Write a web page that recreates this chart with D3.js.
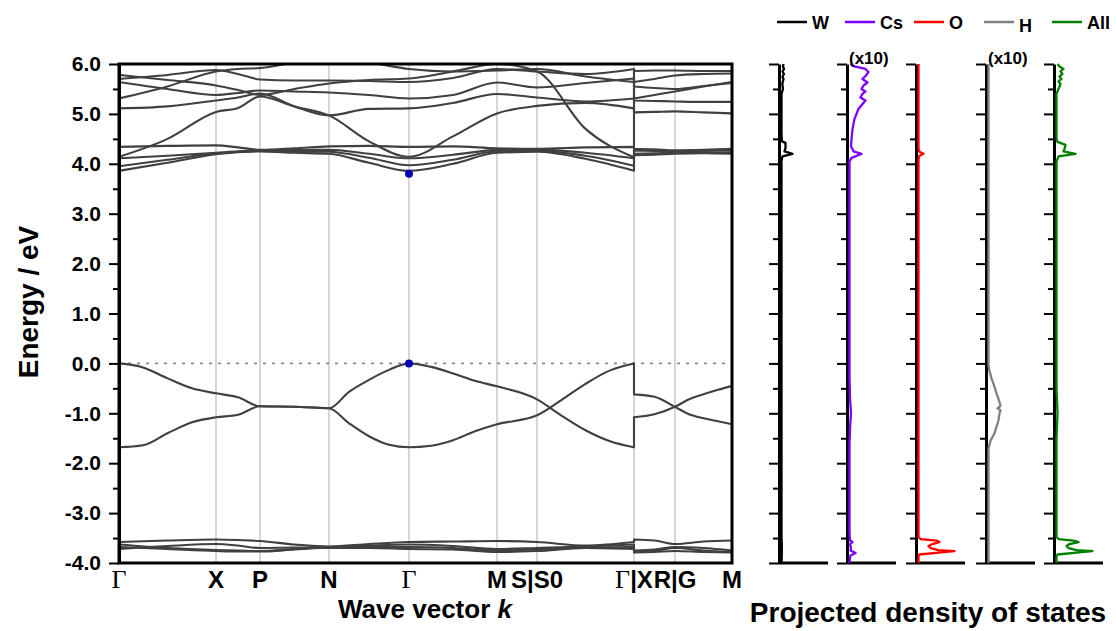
<!DOCTYPE html>
<html>
<head>
<meta charset="utf-8">
<script src="https://cdn.jsdelivr.net/npm/d3@7/dist/d3.min.js"></script>
<style>
  body { margin: 0; background: #fff; }
  text { font-family: "Liberation Sans", Arial, sans-serif; font-weight: bold; fill: #000; }
  .serif { font-family: "Liberation Serif", "Times New Roman", serif; font-weight: normal; }
</style>
</head>
<body>
<svg id="chart" width="1116" height="631"></svg>
<script>
// high-symmetry points along the k path
var kTicks = [0, 0.97, 1.41, 2.10, 2.90, 3.78, 4.18, 5.15, 5.56, 6.13];
var kLabels = ["Γ", "X", "P", "N", "Γ", "M", "S|S0", "Γ|X", "R|G", "M"];

// k positions where band energies were read (Γ|X appears twice: jump)
var kGrid = [0, 0.485, 0.97, 1.19, 1.41, 1.755, 2.10, 2.50, 2.90, 3.34, 3.78,
             4.18, 4.665, 5.15, 5.15, 5.355, 5.56, 5.845, 6.13];
// finer reading grid for the two clean valence bands
var kFine = [0, 0.24, 0.485, 0.73, 0.97, 1.19, 1.41, 1.755, 2.10, 2.30, 2.50, 2.70,
             2.90, 3.12, 3.34, 3.56, 3.78, 4.18, 4.42, 4.665, 4.91, 5.15, 5.15, 5.355,
             5.56, 5.70, 5.845, 5.99, 6.13];

// valence bands near the Fermi level (on kFine)
var vb1 = [0.0, -0.08, -0.30, -0.50, -0.60, -0.68, -0.86, -0.87, -0.90, -0.57, -0.33,
           -0.13, 0.0, -0.07, -0.20, -0.35, -0.46, -0.72, -1.04, -1.34, -1.56, -1.68,
           -1.08, -1.02, -0.87, -0.72, -0.62, -0.53, -0.45];
var vb2 = [-1.68, -1.64, -1.40, -1.18, -1.08, -1.03, -0.86, -0.87, -0.90, -1.20, -1.46,
           -1.63, -1.68, -1.65, -1.54, -1.36, -1.22, -1.04, -0.74, -0.41, -0.14, 0.0,
           -0.62, -0.67, -0.87, -1.02, -1.10, -1.16, -1.22];

// deep valence bands (-3.5 .. -3.8 eV)
var d1 = [-3.58, -3.55, -3.53, -3.54, -3.56, -3.63, -3.67, -3.62, -3.58, -3.57, -3.56,
          -3.58, -3.65, -3.58, -3.53, -3.55, -3.62, -3.57, -3.55];
var d2 = [-3.63, -3.70, -3.74, -3.75, -3.76, -3.72, -3.68, -3.65, -3.63, -3.66, -3.72,
          -3.70, -3.67, -3.63, -3.75, -3.73, -3.68, -3.70, -3.75];
var d3b = [-3.68, -3.72, -3.76, -3.77, -3.77, -3.73, -3.69, -3.68, -3.68, -3.70, -3.75,
           -3.73, -3.69, -3.68, -3.77, -3.76, -3.70, -3.75, -3.78];
var d4 = [-3.72, -3.66, -3.62, -3.65, -3.70, -3.69, -3.70, -3.70, -3.72, -3.73, -3.78,
          -3.76, -3.70, -3.72, -3.79, -3.78, -3.76, -3.78, -3.79];

// conduction bands
var c1 = [3.86, 4.02, 4.19, 4.23, 4.25, 4.22, 4.20, 4.02, 3.86, 4.00, 4.22,
          4.24, 4.10, 3.86, 4.17, 4.18, 4.20, 4.21, 4.20];
var c2 = [3.95, 4.08, 4.21, 4.24, 4.26, 4.25, 4.24, 4.12, 3.97, 4.08, 4.25,
          4.26, 4.16, 3.96, 4.20, 4.21, 4.22, 4.22, 4.23];
var c3 = [4.11, 4.16, 4.22, 4.25, 4.27, 4.28, 4.28, 4.20, 4.11, 4.18, 4.28,
          4.29, 4.22, 4.11, 4.27, 4.26, 4.25, 4.26, 4.27];
var c4 = [4.34, 4.36, 4.37, 4.33, 4.28, 4.31, 4.35, 4.36, 4.34, 4.35, 4.31,
          4.30, 4.33, 4.34, 4.30, 4.29, 4.27, 4.28, 4.30];
var c5 = [4.14, 4.50, 5.04, 5.12, 5.35, 5.15, 4.97, 4.45, 4.14, 4.55, 5.01,
          5.16, 5.22, 5.11, 5.03, 5.04, 5.05, 5.03, 5.01];
var c6 = [5.11, 5.15, 5.27, 5.33, 5.41, 5.15, 4.97, 5.10, 5.11, 5.22, 5.40,
          5.33, 5.25, 5.31, 5.27, 5.26, 5.25, 5.24, 5.24];
var c7 = [5.31, 5.55, 5.85, 5.90, 5.92, 6.02, 6.05, 6.02, 5.90, 5.85, 5.87,
          5.90, 5.75, 5.64, 5.31, 5.38, 5.45, 5.55, 5.64];
var c8 = [5.64, 5.50, 5.38, 5.42, 5.47, 5.45, 5.43, 5.38, 5.31, 5.38, 5.63,
          5.53, 5.62, 5.71, 5.55, 5.52, 5.50, 5.56, 5.62];
var c9 = [5.70, 5.78, 5.88, 5.80, 5.69, 5.67, 5.67, 5.66, 5.64, 5.72, 5.90,
          5.85, 5.80, 5.90, 5.64, 5.70, 5.77, 5.80, 5.81];
var c10 = [5.78, 5.68, 5.57, 5.48, 5.38, 5.50, 5.61, 5.68, 5.71, 5.85, 6.00,
           5.85, 4.70, 4.13, 5.86, 5.87, 5.87, 5.86, 5.86];

var fineBands = [vb1, vb2];
var coarseBands = [d1, d2, d3b, d4, c1, c2, c3, c4, c5, c6, c7, c8, c9, c10];

// band edges marked with dots at Γ
var edgeK = [2.90, 2.90];
var edgeE = [0.0, 3.80];

// energy ticks
var yMajor = [-4, -3, -2, -1, 0, 1, 2, 3, 4, 5, 6];
var yMinor = [-3.5, -2.5, -1.5, -0.5, 0.5, 1.5, 2.5, 3.5, 4.5, 5.5];

// projected DOS, [energy, intensity] pairs
var pdosNames = ["W", "Cs", "O", "H", "All"];
var pdosColors = ["#000000", "#7f00ff", "#ff0000", "#808080", "#008000"];
var pdosScaled = ["", "(x10)", "", "(x10)", ""];
var pdosW = [[-4.0, 0], [-3.8, 0.3], [-3.6, 0.3], [-3.5, 0], [4.06, 0], [4.15, 1], [4.2, 11],
  [4.25, 3], [4.32, 4], [4.42, 4], [4.45, 0.5], [4.6, 0], [5.4, 0], [5.5, 1.5], [5.6, 0.8],
  [5.7, 2], [5.75, 1], [5.8, 2.5], [5.85, 1], [5.9, 2.5], [5.95, 1.5], [6.0, 2]];
var pdosCs = [[-4.0, 0], [-3.9, 0.5], [-3.85, 1], [-3.8, 6], [-3.75, 1], [-3.7, 1.5],
  [-3.62, 0.5], [-3.58, 3], [-3.55, 0.5], [-3.4, 0], [-1.6, 0], [-1.3, 0.5], [-1.0, 1.5],
  [-0.7, 0.5], [-0.3, 0], [4.05, 0], [4.12, 2], [4.2, 12], [4.25, 4], [4.35, 1.5], [4.5, 2],
  [4.7, 3], [4.9, 5], [5.0, 7], [5.1, 9], [5.2, 13], [5.27, 16], [5.33, 11], [5.4, 13],
  [5.45, 16], [5.5, 12], [5.57, 14], [5.63, 18], [5.7, 13], [5.78, 17], [5.84, 19],
  [5.9, 16], [5.95, 5], [6.0, 1]];
var pdosO = [[-4.0, 0], [-3.86, 0], [-3.83, 1], [-3.79, 20], [-3.76, 36], [-3.74, 20],
  [-3.7, 12], [-3.66, 10], [-3.62, 14], [-3.58, 21], [-3.55, 18], [-3.52, 2], [-3.48, 0],
  [4.1, 0], [4.16, 1], [4.2, 5], [4.24, 1], [4.3, 0], [6.0, 0]];
var pdosH = [[-4.0, 0], [-1.7, 0], [-1.55, 2], [-1.4, 6], [-1.14, 10], [-1.0, 11],
  [-0.94, 12], [-0.9, 9], [-0.85, 12], [-0.74, 10.5], [-0.6, 8], [-0.47, 6], [-0.3, 3],
  [-0.15, 1], [-0.04, 0], [6.0, 0]];
var pdosAll = [[-4.0, 0], [-3.86, 0], [-3.83, 1], [-3.79, 20], [-3.76, 36], [-3.74, 20],
  [-3.7, 12], [-3.66, 10], [-3.62, 13], [-3.58, 22], [-3.55, 17], [-3.52, 2], [-3.48, 0],
  [-1.5, 0], [-1.0, 1], [-0.5, 0], [4.05, 0], [4.15, 2], [4.2, 19], [4.25, 7], [4.3, 8],
  [4.38, 9], [4.44, 1], [4.5, 0], [5.4, 0], [5.5, 2], [5.6, 4], [5.65, 2], [5.7, 5],
  [5.75, 3], [5.8, 6], [5.85, 4], [5.9, 7], [5.95, 3], [6.0, 1]];
var pdosData = [pdosW, pdosCs, pdosO, pdosH, pdosAll];

var svg = d3.select("#chart");

var pLeft = 119, pRight = 732, pTop = 64, pBottom = 563;
var x = d3.scaleLinear().domain([0, 6.13]).range([pLeft, pRight]);
var y = d3.scaleLinear().domain([-4, 6]).range([pBottom, pTop]);

svg.append("defs").append("clipPath").attr("id", "plotclip")
  .append("rect").attr("x", pLeft).attr("y", pTop)
  .attr("width", pRight - pLeft).attr("height", pBottom - pTop);

// gray lines at the high-symmetry points
svg.append("g").selectAll("line")
  .data(kTicks.slice(1, -1))
  .join("line")
  .attr("x1", d => x(d)).attr("x2", d => x(d))
  .attr("y1", pTop).attr("y2", pBottom)
  .attr("stroke", "#c8c8c8").attr("stroke-width", 1.5);

// Fermi level
svg.append("line")
  .attr("x1", pLeft).attr("x2", pRight)
  .attr("y1", y(0)).attr("y2", y(0))
  .attr("stroke", "#8a8a8a").attr("stroke-width", 1.6)
  .attr("stroke-dasharray", "3,6");

// bands: the path jumps straight down/up at Γ|X (repeated k value)
var line = d3.line()
  .x(d => x(d[0])).y(d => y(d[1]))
  .curve(d3.curveMonotoneX);

function bandPath(grid) {
  return function(vals) {
    var pts = grid.map((k, i) => [k, vals[i]]);
    var cut = grid.lastIndexOf(5.15);
    return line(pts.slice(0, cut)) + line(pts.slice(cut)).replace(/^M/, "L");
  };
}

var bandG = svg.append("g").attr("clip-path", "url(#plotclip)");
[[coarseBands, kGrid], [fineBands, kFine]].forEach(function(set) {
  bandG.append("g").selectAll("path")
    .data(set[0])
    .join("path")
    .attr("d", bandPath(set[1]))
    .attr("fill", "none")
    .attr("stroke", "#404040")
    .attr("stroke-width", 2.1)
    .attr("stroke-linejoin", "round");
});

// VBM and CBM
svg.append("g").selectAll("circle")
  .data(edgeK)
  .join("circle")
  .attr("cx", d => x(d))
  .attr("cy", (d, i) => y(edgeE[i]))
  .attr("r", 4)
  .attr("fill", "#0000b4");

// frame
svg.append("rect")
  .attr("x", pLeft).attr("y", pTop)
  .attr("width", pRight - pLeft).attr("height", pBottom - pTop)
  .attr("fill", "none").attr("stroke", "#000").attr("stroke-width", 3);

// energy axis
function styleAxis(g) {
  g.select(".domain").attr("stroke-width", 3);
  g.selectAll(".tick line").attr("stroke-width", 2);
}
svg.append("g")
  .attr("transform", "translate(" + pLeft + ",0)")
  .call(d3.axisLeft(y).tickValues(yMajor).tickSize(10).tickSizeOuter(0)
    .tickPadding(8).tickFormat(d => d.toFixed(1)))
  .call(styleAxis)
  .selectAll("text")
  .style("font-size", "21px")
  .attr("fill", "#000");

svg.append("g")
  .attr("transform", "translate(" + pLeft + ",0)")
  .call(d3.axisLeft(y).tickValues(yMinor).tickSize(6).tickFormat(""))
  .call(styleAxis)
  .select(".domain").remove();

svg.append("text")
  .attr("transform", "translate(38,302) rotate(-90)")
  .attr("text-anchor", "middle")
  .style("font-size", "28px")
  .text("Energy / eV");

// k labels (Γ in a serif face)
var kl = svg.append("g").selectAll("text")
  .data(kTicks)
  .join("text")
  .attr("x", d => x(d))
  .attr("y", 588)
  .attr("text-anchor", "middle")
  .style("font-size", "24px");
kl.each(function(d, i) {
  var t = d3.select(this);
  kLabels[i].split(/(Γ)/).filter(s => s.length).forEach(function(s) {
    t.append("tspan")
      .attr("class", s === "Γ" ? "serif" : null)
      .style("font-size", s === "Γ" ? "26px" : null)
      .text(s);
  });
});

var xt = svg.append("text")
  .attr("x", 425)
  .attr("y", 618)
  .attr("text-anchor", "middle")
  .style("font-size", "26px");
xt.append("tspan").text("Wave vector ");
xt.append("tspan").style("font-style", "italic").text("k");

// projected DOS panels
var panelX = [779, 847, 916, 986, 1054];
var pdosLine = d3.line().curve(d3.curveLinear);

pdosData.forEach(function(data, i) {
  var ax = panelX[i];
  var xs = d3.scaleLinear().domain([0, 48]).range([ax + 2.5, ax + 50.5]);
  var g = svg.append("g");

  g.append("g")
    .attr("transform", "translate(" + ax + ",0)")
    .call(d3.axisLeft(y).tickValues(yMajor).tickSize(10).tickSizeOuter(0).tickFormat(""))
    .call(styleAxis);
  g.append("g")
    .attr("transform", "translate(" + ax + ",0)")
    .call(d3.axisLeft(y).tickValues(yMinor).tickSize(6).tickFormat(""))
    .call(styleAxis)
    .select(".domain").remove();
  g.append("line")
    .attr("x1", ax).attr("x2", ax + 49)
    .attr("y1", pBottom).attr("y2", pBottom)
    .attr("stroke", "#000").attr("stroke-width", 3);

  g.append("path")
    .attr("d", pdosLine.x(d => xs(d[1])).y(d => y(d[0]))(data))
    .attr("fill", "none")
    .attr("stroke", pdosColors[i])
    .attr("stroke-width", 2.3)
    .attr("stroke-linejoin", "round");

  if (pdosScaled[i]) {
    g.append("text")
      .attr("x", ax + 2).attr("y", 64)
      .style("font-size", "17px")
      .text(pdosScaled[i]);
  }

  // legend entry
  g.append("line")
    .attr("x1", ax - 2).attr("x2", ax + 28)
    .attr("y1", 22).attr("y2", 22)
    .attr("stroke", pdosColors[i]).attr("stroke-width", 2.5);
  g.append("text")
    .attr("x", ax + 33).attr("y", i === 3 ? 32 : 29)
    .style("font-size", "18px")
    .text(pdosNames[i]);
});

svg.append("text")
  .attr("x", 928).attr("y", 622)
  .attr("text-anchor", "middle")
  .style("font-size", "28px")
  .text("Projected density of states");
</script>
</body>
</html>
